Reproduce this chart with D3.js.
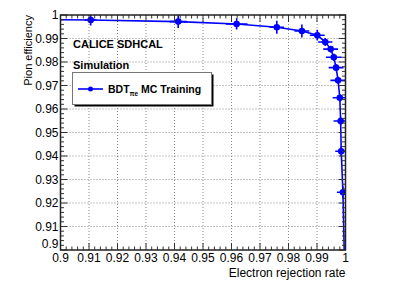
<!DOCTYPE html>
<html><head><meta charset="utf-8">
<script src="https://cdn.jsdelivr.net/npm/d3@7"></script>
<style>body{margin:0;background:#fff}svg{display:block;font-family:"Liberation Sans",Arial,sans-serif}</style>
</head><body><svg id="c" width="407" height="292"></svg>
<script>
// Electron rejection rate (x) and pion efficiency (y) for BDT_πe MC Training
const rejection = [0.80, 0.9106, 0.9413, 0.9618, 0.9759, 0.9847, 0.9901, 0.9929, 0.9948, 0.9959, 0.9967, 0.9974, 0.9980, 0.9983, 0.9985, 0.9991, 0.9999];
const pionEff   = [0.9990, 0.9979, 0.9972, 0.9962, 0.9948, 0.9932, 0.9914, 0.9885, 0.9855, 0.9820, 0.9776, 0.9722, 0.9648, 0.9549, 0.9420, 0.9246, 0.88];
const errX      = [0.002, 0.0021, 0.003, 0.0038, 0.0025, 0.0026, 0.0026, 0.0025, 0.0026, 0.0028, 0.0026, 0.0027, 0.0025, 0.0025, 0.0021, 0.0021, 0];
const errY      = [0.002, 0.0024, 0.0027, 0.0024, 0.0028, 0.0028, 0.0023, 0.0017, 0.0013, 0.0015, 0.0015, 0.0015, 0.0016, 0.0018, 0.002, 0.0025, 0];
const xTicks = [0.9,0.91,0.92,0.93,0.94,0.95,0.96,0.97,0.98,0.99,1];
const yTicks = [0.9,0.91,0.92,0.93,0.94,0.95,0.96,0.97,0.98,0.99,1];
const xTickLabels = ["0.9","0.91","0.92","0.93","0.94","0.95","0.96","0.97","0.98","0.99","1"];
const yTickLabels = ["0.9","0.91","0.92","0.93","0.94","0.95","0.96","0.97","0.98","0.99","1"];

const L=60.5, R=345.5, T=15, B=250;
const svg=d3.select("#c");
const x=d3.scaleLinear().domain([0.9,1]).range([L,R]);
const y=d3.scaleLinear().domain([0.9,1]).range([B,T]);
const blue="#0000ff";

// grid
const grid=svg.append("g").attr("stroke","#888").attr("stroke-width",1).attr("stroke-dasharray","1,2");
xTicks.slice(1,-1).forEach(v=>grid.append("line").attr("x1",x(v)).attr("x2",x(v)).attr("y1",T).attr("y2",B));
yTicks.slice(1,-1).forEach(v=>grid.append("line").attr("y1",y(v)).attr("y2",y(v)).attr("x1",L).attr("x2",R));

// clip
svg.append("clipPath").attr("id","cp").append("rect").attr("x",L).attr("y",T).attr("width",R-L).attr("height",B-T);
const g=svg.append("g").attr("clip-path","url(#cp)");
const data=rejection.map((r,i)=>({x:r,y:pionEff[i],ex:errX[i],ey:errY[i]}));
g.append("path").datum(data).attr("fill","none").attr("stroke",blue).attr("stroke-width",1.6)
 .attr("d",d3.line().x(d=>x(d.x)).y(d=>y(d.y)));
const eb=g.append("g").attr("stroke",blue).attr("stroke-width",1.6);
data.forEach(d=>{
  if(d.ex>0) eb.append("line").attr("x1",x(d.x-d.ex)).attr("x2",x(d.x+d.ex)).attr("y1",y(d.y)).attr("y2",y(d.y));
  if(d.ey>0) eb.append("line").attr("x1",x(d.x)).attr("x2",x(d.x)).attr("y1",y(d.y-d.ey)).attr("y2",y(d.y+d.ey));
});
g.selectAll("circle").data(data.slice(1,-1)).join("circle").attr("cx",d=>x(d.x)).attr("cy",d=>y(d.y)).attr("r",3.3).attr("fill",blue);

// axes with ticks (major + minor) on all four sides
const minor=d3.range(0,51).map(i=>0.9+i*0.002);
function ticksX(yPos,dir){
  const a=svg.append("g").attr("stroke","#333").attr("stroke-width",1);
  minor.forEach((v,i)=>{const len=(i%5===0)?7:3.5;a.append("line").attr("x1",x(v)).attr("x2",x(v)).attr("y1",yPos).attr("y2",yPos+dir*len);});
}
function ticksY(xPos,dir){
  const a=svg.append("g").attr("stroke","#333").attr("stroke-width",1);
  minor.forEach((v,i)=>{const len=(i%5===0)?7:3.5;a.append("line").attr("y1",y(v)).attr("y2",y(v)).attr("x1",xPos).attr("x2",xPos+dir*len);});
}
ticksX(B,-1); ticksX(T,1); ticksY(L,1); ticksY(R,-1);
svg.append("rect").attr("x",L).attr("y",T).attr("width",R-L).attr("height",B-T).attr("fill","none").attr("stroke","#222").attr("stroke-width",1.5);

// tick labels
const xl=svg.append("g").attr("font-size",12).attr("fill","#000").attr("text-anchor","middle");
xTicks.forEach((v,i)=>xl.append("text").attr("x",x(v)).attr("y",B+12).text(xTickLabels[i]));
const yl=svg.append("g").attr("font-size",12).attr("fill","#000").attr("text-anchor","end");
yTicks.forEach((v,i)=>yl.append("text").attr("x",L-2).attr("y",y(v)+(i===0?-2:4)).text(yTickLabels[i]));

// axis titles
svg.append("text").attr("x",R).attr("y",277).attr("text-anchor","end").attr("font-size",12).text("Electron rejection rate");
svg.append("text").attr("transform",`translate(28,${T}) rotate(-90)`).attr("text-anchor","end").attr("dy","0.35em").attr("font-size",11).text("Pion efficiency");

// labels
svg.append("text").attr("x",73).attr("y",48).attr("font-size",11).attr("font-weight","bold").text("CALICE SDHCAL");
svg.append("text").attr("x",73).attr("y",69).attr("font-size",11).attr("font-weight","bold").text("Simulation");

// legend
svg.append("rect").attr("x",74.5).attr("y",74.5).attr("width",139).attr("height",32).attr("fill","#000");
svg.append("rect").attr("x",72.5).attr("y",72.5).attr("width",139).attr("height",32).attr("fill","#fff").attr("stroke","#777").attr("stroke-width",1);
svg.append("line").attr("x1",78).attr("x2",103).attr("y1",89).attr("y2",89).attr("stroke",blue).attr("stroke-width",1.6);
svg.append("circle").attr("cx",90.5).attr("cy",89).attr("r",2.5).attr("fill",blue);
const lt=svg.append("text").attr("x",108).attr("y",93).attr("font-size",10.5).attr("font-weight","bold");
lt.append("tspan").text("BDT");
lt.append("tspan").attr("font-size",6.5).attr("dy",2.5).text("πe");
lt.append("tspan").attr("dy",-2.5).text(" MC Training");
</script></body></html>
